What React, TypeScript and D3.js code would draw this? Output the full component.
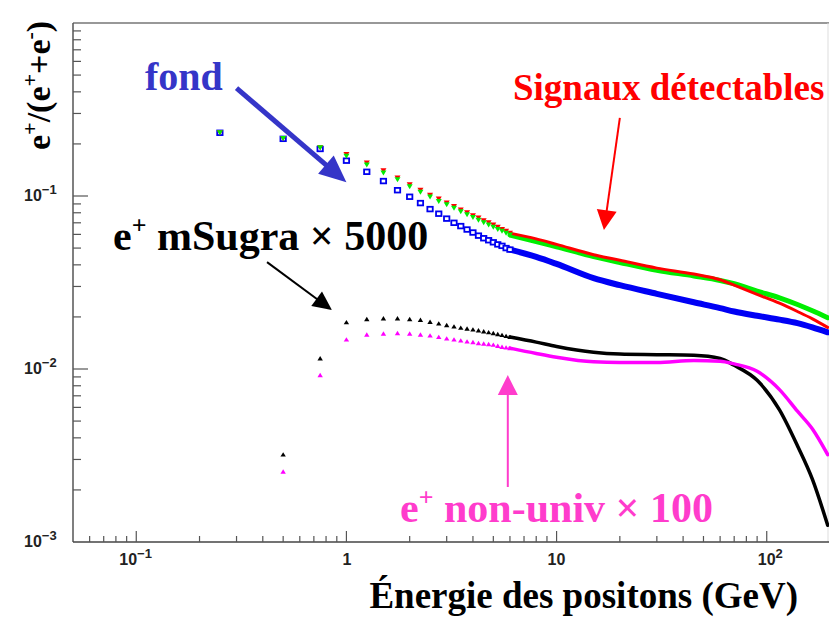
import React from "react";
import * as d3 from "d3";

// énergies des points bien séparés (pas de 0.25 GeV)
const lowE = [0.25, 0.5, 0.75, 1, 1.25, 1.5, 1.75, 2, 2.25, 2.5, 2.75, 3, 3.25, 3.5, 3.75, 4, 4.25, 4.5, 4.75, 5, 5.25, 5.5, 5.75, 6];
const fondLow = [0.232, 0.214, 0.187, 0.16, 0.138, 0.122, 0.108, 0.099, 0.091, 0.084, 0.079, 0.074, 0.07, 0.067, 0.064, 0.0615, 0.059, 0.057, 0.0555, 0.054, 0.0525, 0.0515, 0.05, 0.049];
const rougeLow = [0.232, 0.215, 0.19, 0.174, 0.155, 0.14, 0.127, 0.116, 0.108, 0.101, 0.096, 0.091, 0.087, 0.083, 0.08, 0.077, 0.0745, 0.072, 0.07, 0.068, 0.066, 0.064, 0.0625, 0.061];
const vertLow = [0.232, 0.215, 0.19, 0.17, 0.151, 0.136, 0.124, 0.113, 0.105, 0.0987, 0.093, 0.089, 0.085, 0.081, 0.078, 0.075, 0.0725, 0.07, 0.068, 0.066, 0.064, 0.0625, 0.061, 0.0595];
const sugraLow = [null, 0.0032, 0.0115, 0.0186, 0.0194, 0.0196, 0.0196, 0.0194, 0.0192, 0.0187, 0.0183, 0.0179, 0.0176, 0.0173, 0.0171, 0.0169, 0.0167, 0.0165, 0.0163, 0.0161, 0.0159, 0.0157, 0.0155, 0.0153];
const nonUnivLow = [null, 0.00255, 0.0092, 0.0148, 0.0158, 0.016, 0.0161, 0.016, 0.0158, 0.0156, 0.0153, 0.015, 0.0148, 0.0146, 0.0144, 0.0143, 0.0141, 0.014, 0.0139, 0.0138, 0.0136, 0.0134, 0.0133, 0.0132];

// au-delà de 6 GeV les marqueurs se confondent en une bande
const highE = [6, 8, 10, 15, 20, 30, 45, 60, 70, 90, 115, 140, 165, 195];
const fondHigh = [0.049, 0.0445, 0.0405, 0.0335, 0.0305, 0.0272, 0.0243, 0.0225, 0.0215, 0.0203, 0.0193, 0.0184, 0.0174, 0.0163];
const rougeHigh = [0.061, 0.0565, 0.0525, 0.0458, 0.0425, 0.0383, 0.0354, 0.0328, 0.0305, 0.027, 0.024, 0.0215, 0.0195, 0.0174];
const vertHigh = [0.0595, 0.0545, 0.0508, 0.0447, 0.0413, 0.0372, 0.0345, 0.0325, 0.0311, 0.0282, 0.0258, 0.0236, 0.0217, 0.0198];
const sugraHigh = [0.0153, 0.0143, 0.0135, 0.0125, 0.0122, 0.0121, 0.012, 0.0115, 0.0105, 0.0086, 0.0058, 0.0036, 0.0023, 0.00125];
const nonUnivHigh = [0.0132, 0.0123, 0.0117, 0.011, 0.0109, 0.0109, 0.0112, 0.0111, 0.0107, 0.0097, 0.0076, 0.0057, 0.0045, 0.0032];

const xTickLabels = [
  { v: 0.1, base: "10", exp: "\u22121" },
  { v: 1, base: "1", exp: "" },
  { v: 10, base: "10", exp: "" },
  { v: 100, base: "10", exp: "2" },
];
const yTickLabels = [
  { v: 0.1, exp: "\u22121" },
  { v: 0.01, exp: "\u22122" },
  { v: 0.001, exp: "\u22123" },
];

const W = 829;
const H = 621;
const serif = "'Liberation Serif', 'Times New Roman', serif";
const sans = "'Liberation Sans', Arial, sans-serif";

const x = d3.scaleLog().domain([0.05, 200]).range([73, 830]);
const y = d3.scaleLog().domain([0.001, 1]).range([542, 23]);

type Pt = { e: number; v: number };
const pts = (es: number[], vs: (number | null)[]): Pt[] =>
  es.map((e, i) => ({ e, v: vs[i] as number })).filter((d) => d.v != null);

const line = d3
  .line<Pt>()
  .x((d) => x(d.e))
  .y((d) => y(d.v))
  .curve(d3.curveMonotoneX);

// flèche d'annotation : du point (e0,v0) vers la pointe (e1,v1)
function Arrow({ from, to, color, width, headLen, headW }: any) {
  const x0 = x(from[0]), y0 = y(from[1]);
  const x1 = x(to[0]), y1 = y(to[1]);
  const dx = x1 - x0, dy = y1 - y0;
  const L = Math.hypot(dx, dy);
  const ux = dx / L, uy = dy / L;
  const bx = x1 - ux * headLen, by = y1 - uy * headLen;
  const head = [
    [x1, y1],
    [bx - uy * headW, by + ux * headW],
    [bx + uy * headW, by - ux * headW],
  ];
  return (
    <g>
      <line x1={x0} y1={y0} x2={bx + ux * 2} y2={by + uy * 2} stroke={color} strokeWidth={width} />
      <polygon points={head.map((p) => p.join(",")).join(" ")} fill={color} />
    </g>
  );
}

export default function App() {
  const fondP = pts(lowE, fondLow);
  const rougeP = pts(lowE, rougeLow);
  const vertP = pts(lowE, vertLow);
  const sugraP = pts(lowE, sugraLow);
  const nuP = pts(lowE, nonUnivLow);

  const xTicks = x.ticks().filter((t) => t > 0.05 && t < 200);
  const yTicks = y.ticks().filter((t) => t > 0.001 && t < 1);
  const isMajor = (t: number) => Math.abs(Math.log10(t) - Math.round(Math.log10(t))) < 1e-6;

  const downTri = (d: Pt) => {
    const cx = x(d.e), cy = y(d.v);
    return `${cx - 3},${cy - 2.5} ${cx + 3},${cy - 2.5} ${cx},${cy + 2.5}`;
  };
  const upTri = (d: Pt) => {
    const cx = x(d.e), cy = y(d.v);
    return `${cx - 2.7},${cy + 2} ${cx + 2.7},${cy + 2} ${cx},${cy - 2.4}`;
  };

  const band = (vs: number[]) => line(highE.map((e, i) => ({ e, v: vs[i] })))!;

  return (
    <svg width={W} height={H} style={{ position: "absolute", left: 0, top: 0, background: "#fff" }}>
      {/* cadre */}
      <line x1={73} y1={23} x2={829} y2={23} stroke="#333" strokeWidth={1.2} />
      <line x1={828} y1={23} x2={828} y2={542} stroke="#ddd" strokeWidth={1} />
      <line x1={73} y1={23} x2={73} y2={542} stroke="#555" strokeWidth={1.5} />
      <line x1={73} y1={542} x2={829} y2={542} stroke="#444" strokeWidth={1.5} />

      {yTicks.map((t) => (
        <line key={"y" + t} x1={73} x2={73 + (isMajor(t) ? 15 : 8)} y1={y(t)} y2={y(t)} stroke="#555" strokeWidth={1.2} />
      ))}
      {xTicks.map((t) => (
        <line key={"x" + t} x1={x(t)} x2={x(t)} y1={542} y2={542 - (isMajor(t) ? 11 : 6)} stroke="#555" strokeWidth={1.2} />
      ))}

      {yTickLabels.map((d) => (
        <text key={"yl" + d.v} x={24} y={y(d.v) + 5} fontFamily={sans} fontWeight="bold" fontSize={16} fill="#222">
          10<tspan dy={-7} fontSize={13}>{d.exp}</tspan>
        </text>
      ))}
      {xTickLabels.map((d) => (
        <text key={"xl" + d.v} x={x(d.v) + (d.exp === "\u22121" ? -17 : d.exp ? -9 : d.base === "1" ? -4 : -9)} y={565} fontFamily={sans} fontWeight="bold" fontSize={16} fill="#222">
          {d.base}
          {d.exp && <tspan dy={-7} fontSize={13}>{d.exp}</tspan>}
        </text>
      ))}

      {/* bandes continues */}
      <path d={band(fondHigh)} fill="none" stroke="#0000f5" strokeWidth={6} strokeLinecap="round" />
      <path d={band(vertHigh)} fill="none" stroke="#00ee00" strokeWidth={5} strokeLinecap="round" />
      <path d={band(rougeHigh)} fill="none" stroke="#ff0000" strokeWidth={3} strokeLinecap="round" />
      <path d={band(sugraHigh)} fill="none" stroke="#000" strokeWidth={3.5} strokeLinecap="round" />
      <path d={band(nonUnivHigh)} fill="none" stroke="#ff00ff" strokeWidth={3.5} strokeLinecap="round" />

      {/* marqueurs */}
      {fondP.map((d, i) => (
        <rect key={"f" + i} x={x(d.e) - 2.7} y={y(d.v) - 2.3} width={5.4} height={4.6} fill="#fff" stroke="#0000f0" strokeWidth={1.8} />
      ))}
      {rougeP.map((d, i) => (
        <polygon key={"r" + i} points={downTri(d)} fill="#ff0000" />
      ))}
      {vertP.map((d, i) => (
        <polygon key={"v" + i} points={downTri(d)} fill="#00ee00" />
      ))}
      {sugraP.map((d, i) => (
        <polygon key={"s" + i} points={upTri(d)} fill="#000" />
      ))}
      {nuP.map((d, i) => (
        <polygon key={"n" + i} points={upTri(d)} fill="#ff00ff" />
      ))}

      {/* annotations */}
      <text x={145} y={90} fontFamily={serif} fontWeight="bold" fontSize={40} fill="#3535c8">fond</text>
      <Arrow from={[0.3, 0.42]} to={[1.0, 0.12]} color="#3535c8" width={5} headLen={27} headW={12} />

      <text x={513} y={100} fontFamily={serif} fontWeight="bold" fontSize={37} fill="#ff0000">Signaux détectables</text>
      <Arrow from={[20, 0.283]} to={[16.8, 0.0635]} color="#ff0000" width={2} headLen={20} headW={10} />

      <text x={113} y={250} fontFamily={serif} fontWeight="bold" fontSize={42} fill="#000">
        e<tspan dy={-16} fontSize={26}>+</tspan>
        <tspan dy={16}> mSugra × 5000</tspan>
      </text>
      <Arrow from={[0.419, 0.0415]} to={[0.853, 0.0219]} color="#000" width={2} headLen={19} headW={9} />

      <text x={400} y={522} fontFamily={serif} fontWeight="bold" fontSize={42} fill="#ff3ccc">
        e<tspan dy={-16} fontSize={26}>+</tspan>
        <tspan dy={16}> non-univ × 100</tspan>
      </text>
      <Arrow from={[5.86, 0.00208]} to={[5.86, 0.00923]} color="#ff3ccc" width={2} headLen={20} headW={10} />

      {/* titres des axes */}
      <text x={798} y={608} textAnchor="end" fontFamily={serif} fontWeight="bold" fontSize={37} fill="#000">
        Énergie des positons (GeV)
      </text>
      <text transform="translate(50,150) rotate(-90)" fontFamily={serif} fontWeight="bold" fontSize={34} fill="#000">
        e<tspan dy={-13} fontSize={22}>+</tspan>
        <tspan dy={13}>/(e</tspan>
        <tspan dy={-13} fontSize={22}>+</tspan>
        <tspan dy={13}>+e</tspan>
        <tspan dy={-13} fontSize={22}>-</tspan>
        <tspan dy={13}>)</tspan>
      </text>
    </svg>
  );
}
